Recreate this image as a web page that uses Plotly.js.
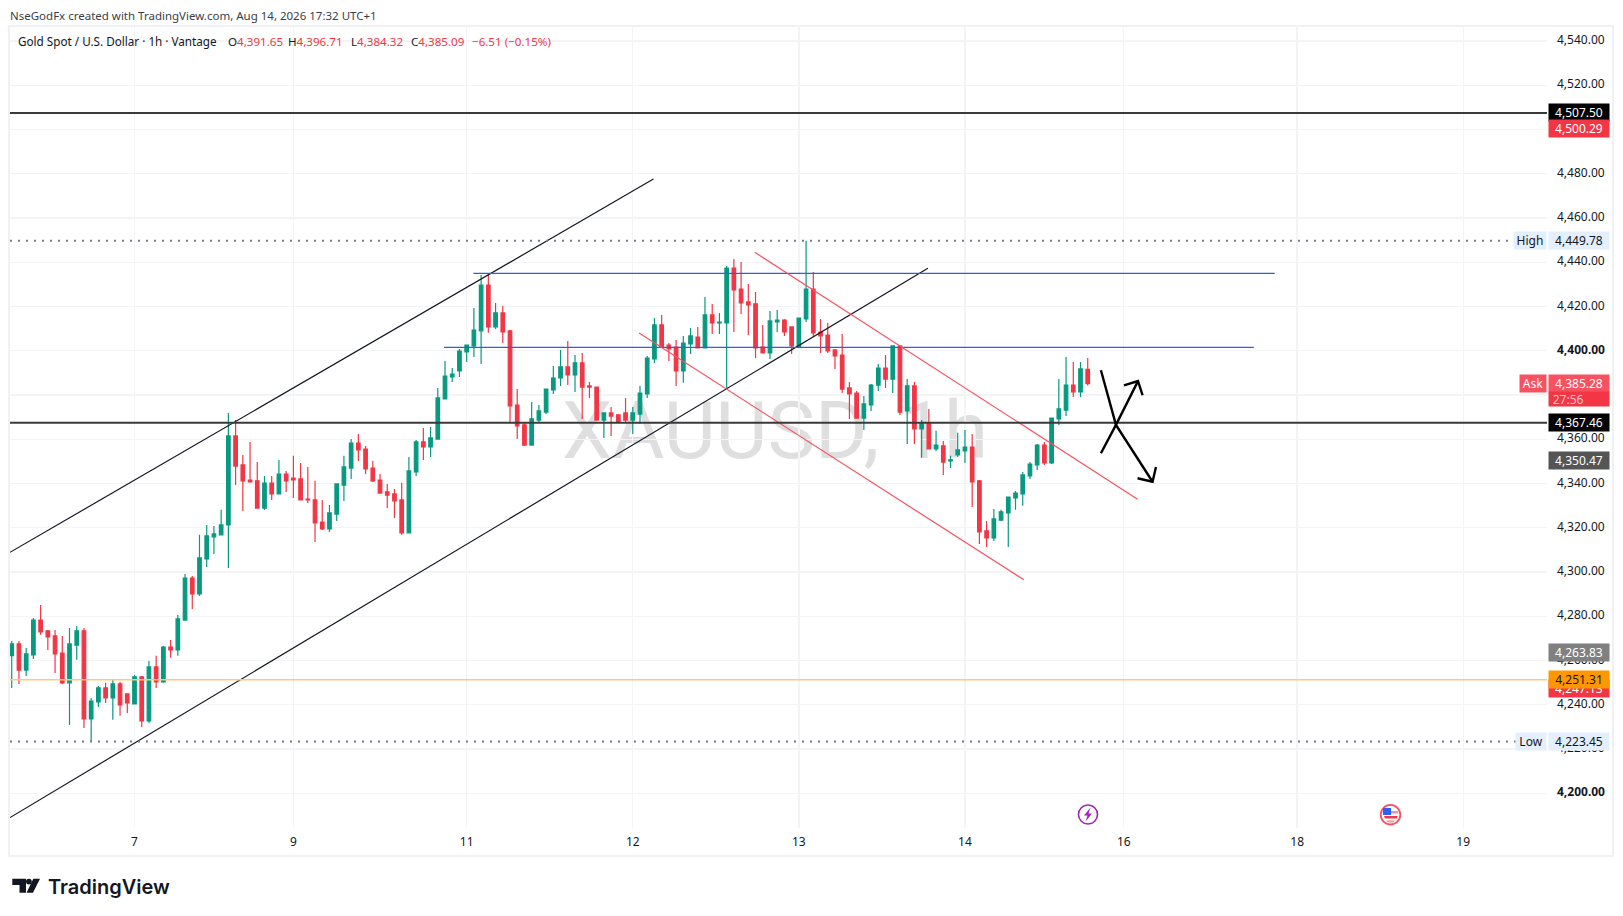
<!DOCTYPE html>
<html><head><meta charset="utf-8">
<script src="https://cdn.plot.ly/plotly-3.0.1.min.js"></script>
<style>html,body{margin:0;padding:0;background:#fff}#c{width:1623px;height:916px}</style></head>
<body><div id="c"></div>
<script>
const opens=[4262.2,4267.5,4255.7,4262.5,4278.3,4273.4,4271.1,4263.4,4249.9,4267.0,4273.4,4233.6,4241.3,4247.6,4243.1,4249.4,4244.9,4240.4,4252.6,4232.7,4257.1,4250.3,4266.1,4264.8,4278.3,4297.3,4290.1,4305.9,4315.9,4316.8,
4321.3,4361.5,4348.4,4341.6,4341.2,4328.9,4340.2,4335.3,4344.3,4342.5,4342.1,4333.0,4332.6,4322.6,4319.5,4326.2,4339.3,4347.0,4358.3,4355.6,4347.0,4341.6,4336.2,4335.3,4332.6,4317.7,4345.2,4358.8,4356.5,4360.1,
4378.2,4388.2,4390.9,4399.5,4402.2,4409.0,4429.7,4410.8,4417.1,4409.0,4375.5,4366.5,4357.4,4368.7,4372.3,4382.3,4387.7,4392.7,4389.1,4394.5,4384.1,4383.6,4368.7,4371.9,4371.0,4371.9,4368.7,4371.4,4380.5,4396.3,
4411.7,4402.6,4401.7,4390.9,4403.1,4406.2,4401.3,4416.2,4412.6,4412.6,4437.4,4427.9,4422.1,4421.2,4401.7,4399.0,4413.0,4413.9,4410.8,4401.7,4414.4,4427.9,4408.5,4407.1,4400.4,4398.1,4383.2,4380.9,4369.6,4375.5,
4384.5,4392.2,4387.2,4402.2,4372.8,4384.1,4364.7,4367.4,4355.6,4357.0,4350.2,4352.9,4354.7,4356.5,4341.2,4318.6,4315.4,4323.5,4326.7,4333.5,4335.3,4343.4,4348.4,4357.4,4349.3,4369.2,4373.2,4384.5,4381.4,4391.65];
const highs=[4268.8,4268.8,4265.7,4279.2,4285.1,4273.8,4273.8,4271.1,4274.7,4275.6,4274.7,4243.1,4248.5,4249.9,4251.7,4250.3,4245.0,4253.5,4253.0,4259.8,4262.1,4266.6,4269.3,4280.6,4299.1,4298.2,4316.8,4321.3,4320.8,4328.1,
4371.9,4368.7,4352.9,4358.8,4349.7,4343.4,4343.4,4350.6,4345.7,4352.5,4349.3,4347.5,4341.2,4332.6,4330.3,4339.8,4352.5,4360.1,4362.4,4357.0,4350.2,4344.3,4339.8,4337.5,4340.3,4352.0,4359.7,4365.1,4365.6,4383.2,
4395.4,4392.2,4400.8,4402.6,4419.3,4434.3,4435.0,4421.6,4420.3,4409.4,4382.7,4367.8,4376.9,4375.5,4382.7,4393.1,4400.4,4404.4,4398.1,4399.0,4385.9,4383.6,4372.0,4374.6,4371.4,4378.7,4374.6,4384.1,4397.6,4414.8,
4416.2,4403.5,4404.9,4406.7,4410.3,4410.8,4424.3,4421.2,4417.1,4438.3,4441.5,4440.1,4430.2,4426.6,4411.7,4418.0,4418.4,4414.4,4410.8,4414.8,4449.78,4435.6,4414.4,4412.6,4400.4,4407.6,4385.9,4381.8,4379.6,4385.0,
4394.0,4398.1,4402.2,4402.4,4387.2,4385.9,4368.7,4373.7,4363.8,4359.2,4352.5,4362.9,4364.2,4362.4,4341.6,4323.1,4328.5,4328.1,4333.9,4336.6,4345.2,4349.7,4357.9,4358.8,4369.6,4387.2,4397.2,4394.9,4394.9,4396.71];
const lows=[4247.6,4249.4,4253.0,4260.7,4271.6,4264.8,4254.4,4249.4,4230.9,4260.3,4229.5,4223.45,4239.0,4240.8,4233.2,4235.0,4236.3,4240.3,4230.0,4231.8,4247.6,4249.9,4261.2,4262.1,4278.3,4283.3,4289.2,4302.3,4308.2,4316.8,
4301.8,4339.3,4327.6,4340.3,4328.9,4328.0,4332.6,4335.3,4336.2,4333.5,4332.6,4331.2,4313.6,4319.0,4318.1,4323.1,4332.1,4342.1,4350.2,4344.3,4340.7,4335.7,4328.9,4324.4,4316.8,4317.7,4343.4,4350.6,4352.0,4360.1,
4378.2,4385.9,4388.2,4394.9,4397.2,4394.0,4408.1,4409.9,4403.5,4367.8,4360.1,4357.0,4357.4,4367.8,4371.4,4380.5,4384.1,4384.5,4381.4,4369.2,4378.7,4368.7,4360.6,4361.5,4367.4,4367.4,4362.4,4366.9,4378.7,4394.5,
4401.7,4395.4,4384.1,4385.5,4398.6,4401.3,4401.3,4407.6,4407.6,4383.2,4408.5,4416.6,4407.1,4396.7,4399.0,4396.3,4408.5,4406.7,4398.6,4401.7,4413.0,4406.2,4399.0,4399.0,4391.8,4380.9,4369.2,4369.6,4364.2,4372.8,
4381.8,4383.2,4380.9,4371.0,4357.9,4357.9,4351.6,4355.6,4354.7,4343.9,4347.0,4352.0,4349.3,4329.4,4312.7,4311.3,4314.0,4323.1,4311.3,4328.1,4329.9,4342.1,4346.1,4348.4,4348.8,4366.5,4370.5,4379.1,4379.1,4384.32];
const closes=[4267.5,4255.7,4263.0,4278.3,4272.9,4270.7,4263.0,4249.9,4267.5,4273.4,4233.6,4241.7,4247.6,4243.1,4249.4,4239.9,4240.8,4252.6,4232.7,4257.1,4250.3,4266.1,4264.8,4278.8,4297.3,4290.1,4306.4,4316.3,4317.2,4321.3,
4361.5,4347.9,4341.2,4340.7,4328.9,4340.2,4335.3,4344.3,4341.2,4341.6,4332.6,4332.6,4322.2,4319.5,4326.7,4339.8,4347.5,4358.3,4355.2,4346.6,4341.2,4335.7,4334.8,4332.1,4317.7,4345.7,4358.8,4356.5,4360.6,4378.7,
4388.6,4389.5,4399.9,4402.6,4409.4,4429.7,4410.8,4417.1,4408.5,4375.1,4366.0,4357.4,4369.2,4372.8,4382.7,4387.7,4392.7,4389.1,4394.5,4383.6,4383.6,4368.7,4371.9,4370.5,4367.8,4368.7,4371.9,4380.9,4396.7,4411.7,
4401.7,4400.8,4390.9,4403.5,4406.7,4401.3,4416.2,4412.6,4413.0,4437.4,4427.5,4421.6,4420.7,4401.3,4399.0,4413.5,4413.9,4408.5,4402.2,4414.8,4427.9,4408.1,4406.7,4399.9,4397.7,4382.7,4380.5,4369.6,4376.0,4384.5,
4392.2,4387.2,4402.2,4372.3,4384.1,4364.7,4367.4,4355.6,4357.4,4349.7,4350.7,4355.2,4356.5,4340.7,4318.1,4315.4,4324.0,4327.2,4333.9,4335.7,4343.9,4348.8,4357.4,4349.3,4369.6,4373.7,4384.5,4381.4,4391.8,4385.09];

const priceTicks=[4200,4220,4240,4260,4280,4300,4320,4340,4360,4380,4400,4420,4440,4460,4480,4500,4520,4540];
const boldTicks=[4200,4400];
const timeTicks=[17,39,63,86,109,132,154,178,201];
const timeLabels=['7','9','11','12','13','14','16','18','19'];

const channelUpperX=[-0.24,88.86], channelUpperY=[4308.9,4477.6];
const channelLowerX=[-0.24,126.87], channelLowerY=[4189.0,4437.3];
const blueUpperX=[63.93,174.9], blueUpperY=[4435.0,4435.0];
const blueLowerX=[59.87,172.0], blueLowerY=[4401.5,4401.5];
const redUpperX=[102.9,155.9], redUpperY=[4444.5,4332.9];
const redLowerX=[86.88,140.15], redLowerY=[4408.0,4296.5];
const levelsBlack=[4507.50,4367.46];
const levelOrange=4251.31, levelHigh=4449.78, levelLow=4223.45;
const arrowDownX=[150.83,152.91,157.98], arrowDownY=[4391.2,4366.5,4340.8];
const arrowDownHeadX=[155.9,157.98,158.45], arrowDownHeadY=[4342.4,4340.8,4347.5];
const arrowUpX=[150.83,152.91,155.96], arrowUpY=[4353.7,4366.5,4386.3];
const arrowUpHeadX=[154.02,155.96,156.6], arrowUpHeadY=[4384.4,4386.3,4379.9];

const labelTexts=['4,507.50','4,500.29','4,449.78','4,385.28','4,367.46','4,350.47','4,263.83','4,247.13','4,251.31','4,223.45'];
const labelPrices=[4507.50,4500.29,4449.78,4385.28,4367.46,4350.47,4263.83,4247.13,4251.31,4223.45];
const labelFills=['#000000','#F23645','#E3EFFD','#F7525F','#000000','#555555','#808080','#F23645','#FF9800','#E3EFFD'];
const labelInks=['#fff','#fff','#131722','#fff','#fff','#fff','#fff','#fff','#131722','#131722'];

const FONT='"Noto Sans", sans-serif';
const L=10,R=1547,T=26,B=828;
const px=v=>(v-L)/(R-L), py=v=>(B-v)/(B-T);
const idx=opens.map((_,i)=>i);

const seg=(x,y,color,width,dash)=>({type:'scatter',mode:'lines',x,y,hoverinfo:'skip',showlegend:false,line:{color,width,dash:dash||'solid'}});
const edgeX=[-0.24,212.6], dotX=[-0.24,208.3];
const traces=[
 {type:'candlestick',x:idx,open:opens,high:highs,low:lows,close:closes,whiskerwidth:0,hoverinfo:'skip',showlegend:false,
  increasing:{line:{color:'#089981',width:1.2},fillcolor:'#089981'},decreasing:{line:{color:'#F23645',width:1.2},fillcolor:'#F23645'}},
 seg(channelUpperX,channelUpperY,'#131722',1.2),
 seg(channelLowerX,channelLowerY,'#131722',1.2),
 seg(blueUpperX,blueUpperY,'#2F5FDC',1.2),
 seg(blueLowerX,blueLowerY,'#2F5FDC',1.2),
 seg(redUpperX,redUpperY,'#F7525F',1.2),
 seg(redLowerX,redLowerY,'#F7525F',1.2),
 seg(edgeX,[levelsBlack[0],levelsBlack[0]],'#3a3a3a',2),
 seg(edgeX,[levelsBlack[1],levelsBlack[1]],'#3a3a3a',2),
 seg(edgeX,[levelOrange,levelOrange],'#FFC97A',1.6),
 seg(dotX,[levelHigh,levelHigh],'#787b86',2,'2px,6px'),
 seg(dotX,[levelLow,levelLow],'#787b86',2,'2px,6px'),
 seg(arrowDownX,arrowDownY,'#000',2.4),
 seg(arrowDownHeadX,arrowDownHeadY,'#000',2.4),
 seg(arrowUpX,arrowUpY,'#000',2.4),
 seg(arrowUpHeadX,arrowUpHeadY,'#000',2.4)
];

const annotations=[];
labelTexts.forEach((t,i)=>annotations.push({xref:'paper',yref:'y',x:1,xshift:1,xanchor:'left',y:labelPrices[i],yanchor:'middle',
  text:t,showarrow:false,bgcolor:labelFills[i],width:60,height:17,borderpad:0,align:'center',font:{family:FONT,size:12,color:labelInks[i]}}));
const sideTag=(text,price,w,bg,color)=>annotations.push({xref:'paper',yref:'y',x:1,xanchor:'right',y:price,yanchor:'middle',text,showarrow:false,bgcolor:bg,width:w,height:17,borderpad:0,align:'center',font:{family:FONT,size:12,color}});
sideTag('High',levelHigh,32,'#E3EFFD','#131722');
sideTag('Low',levelLow,30,'#E3EFFD','#131722');
sideTag('Ask',4385.28,26,'#F7525F','#fff');
annotations.push({xref:'paper',yref:'y',x:1,xshift:1,xanchor:'left',y:4385.28,yshift:-16,yanchor:'middle',text:'27:56&nbsp;&nbsp;&nbsp;&nbsp;&nbsp;&nbsp;&nbsp;',showarrow:false,bgcolor:'#F23645',width:60,height:14,borderpad:0,align:'center',font:{family:FONT,size:12,color:'rgba(255,255,255,0.72)'}});
const txt=(text,x,y,size,color,extra)=>annotations.push(Object.assign({xref:'paper',yref:'paper',x:px(x),y:py(y),xanchor:'left',yanchor:'middle',text,showarrow:false,borderpad:0,font:{family:FONT,size,color}},extra||{}));
const RED='#F23645';
txt('NseGodFx created with TradingView.com, Aug 14, 2026 17:32 UTC+1',9,15,11.5,'#3a3d46');
txt('Gold Spot / U.S. Dollar · 1h · Vantage',17,41.5,11.7,'#131722');
txt(`O<span style="color:${RED}">4,391.65</span>`,226.7,41.5,11.6,'#131722');
txt(`H<span style="color:${RED}">4,396.71</span>`,287,41.5,11.6,'#131722');
txt(`L<span style="color:${RED}">4,384.32</span>`,350,41.5,11.6,'#131722');
txt(`C<span style="color:${RED}">4,385.09</span>`,410.4,41.5,11.6,'#131722');
txt('−6.51 (−0.15%)',471,41.5,11.6,RED);
txt('TradingView',47,887,20,'#131722',{font:{family:'Inter, sans-serif',size:20,color:'#131722',weight:600}});

const poly=(pts,fill)=>({type:'path',xref:'paper',yref:'paper',layer:'above',fillcolor:fill,line:{width:0},
  path:'M'+pts.map(p=>px(p[0])+','+py(p[1])).join(' L')+' Z'});
const circ=(cx,cy,r,fill,stroke,w)=>({type:'circle',xref:'paper',yref:'paper',layer:'above',x0:px(cx-r),x1:px(cx+r),y0:py(cy+r),y1:py(cy-r),fillcolor:fill,line:{color:stroke,width:w}});
const shapes=[
 {type:'rect',xref:'paper',yref:'paper',layer:'below',x0:px(9),x1:px(1613),y0:py(856),y1:py(26),line:{color:'#F0F1F3',width:2},fillcolor:'rgba(0,0,0,0)'},
 {type:'rect',xref:'paper',yref:'paper',layer:'below',x0:px(566),x1:px(984),y0:py(394),y1:py(455),line:{width:0},fillcolor:'rgba(0,0,0,0)',
  label:{text:'XAUUSD, 1h',textposition:'middle center',font:{family:'Roboto, sans-serif',size:80,color:'#DFDFDF'}}},
 poly([[12.3,878.7],[26,878.7],[26,892.7],[19.5,892.7],[19.5,885],[12.3,885]],'#131722'),
 circ(28.9,881.6,2.9,'#131722','#131722',0),
 poly([[33.3,878.7],[40,878.7],[33,892.7],[26.5,892.7]],'#131722'),
 circ(1088,814.5,9.5,'#fff','#9C27B0',1.6),
 poly([[1090.5,807.5],[1084,815.5],[1087.5,815.5],[1085.5,821.5],[1092,813.5],[1088.5,813.5]],'#9C27B0'),
 circ(1390.5,814.7,9.8,'#fff','#F7525F',1.8),
 poly([[1383,811],[1398,811],[1398,813.5],[1383,813.5]],'#F7919A'),
 poly([[1384,816],[1397.5,816],[1397,818.5],[1385,818.5]],'#F23645'),
 poly([[1386,820.5],[1395,820.5],[1393,822.5],[1388,822.5]],'#F7919A'),
 poly([[1383,808],[1391,808],[1391,815],[1383,815]],'#2962FF')
];

const layout={width:1623,height:916,autosize:false,margin:{l:L,r:1623-R,t:T,b:916-B,pad:0},
 paper_bgcolor:'#fff',plot_bgcolor:'#fff',font:{family:FONT,size:12,color:'#131722'},showlegend:false,hovermode:false,
 xaxis:{type:'linear',range:[-0.24,212.6],rangeslider:{visible:false},tickmode:'array',tickvals:timeTicks,ticktext:timeLabels,
  showgrid:true,gridcolor:'#F3F4F6',gridwidth:1.3,zeroline:false,showline:false,ticks:'',ticklabelstandoff:5,tickfont:{family:FONT,size:12,color:'#131722'}},
 yaxis:{side:'right',range:[4184.3,4546.8],tickmode:'array',tickvals:priceTicks,
  ticktext:priceTicks.map(v=>{const s=v.toLocaleString('en-US',{minimumFractionDigits:2});return boldTicks.includes(v)?'<b>'+s+'</b>':s;}),
  showgrid:true,gridcolor:'#F3F4F6',gridwidth:1.3,zeroline:false,showline:false,ticks:'',ticklabelstandoff:9,ticklabelshift:-1,tickfont:{family:FONT,size:12,color:'#131722'}},
 shapes,annotations};
Plotly.newPlot('c',traces,layout,{staticPlot:true,displayModeBar:false});
</script></body></html>
